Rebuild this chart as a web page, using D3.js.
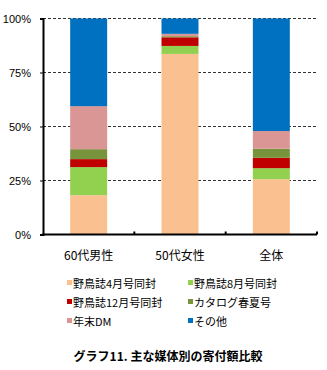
<!DOCTYPE html>
<html><head><meta charset="utf-8">
<script src="https://cdn.jsdelivr.net/npm/d3@7"></script>
<style>body{margin:0;background:#fff;} svg{display:block;font-family:"Noto Sans CJK JP","Noto Sans",sans-serif;}</style>
</head><body><svg id="c" width="327" height="370"></svg>
<script>
const categories = ["60代男性", "50代女性", "全体"];
const seriesNames = ["野鳥誌4月号同封", "野鳥誌8月号同封", "野鳥誌12月号同封", "カタログ春夏号", "年末DM", "その他"];
const seriesColors = ["#FAC090", "#92D050", "#C00000", "#77933C", "#D99694", "#0070C0"];
const s1 = [18.2, 83.6, 25.6];
const s2 = [13.0, 3.7, 5.1];
const s3 = [3.7, 4.0, 4.8];
const s4 = [4.6, 0.5, 4.2];
const s5 = [19.9, 1.1, 8.2];
const s6 = [40.6, 7.1, 52.1];
const yTicks = [0, 0.25, 0.5, 0.75, 1];
const title = "グラフ11. 主な媒体別の寄付額比較";

const svg = d3.select("#c");
const L = 43, R = 317, T = 18.5, B = 234.5;
const x = d3.scaleBand().domain(categories).range([L, R]).paddingInner(0.595).paddingOuter(0.2975);
const y = d3.scaleLinear().domain([0, 1]).range([B, T]);

const rows = categories.map((c, i) => {
  const o = {cat: c};
  [s1, s2, s3, s4, s5, s6].forEach((s, k) => o[seriesNames[k]] = s[i]);
  const tot = d3.sum([s1, s2, s3, s4, s5, s6], s => s[i]);
  seriesNames.forEach(n => o[n] = o[n] / tot);
  return o;
});
const stacked = d3.stack().keys(seriesNames)(rows);

// gridlines
svg.append("g").selectAll("line").data(yTicks.filter(d => d > 0)).join("line")
  .attr("x1", L).attr("x2", R).attr("y1", d => y(d)).attr("y2", d => y(d))
  .attr("stroke", "#333").attr("stroke-width", 1).attr("stroke-dasharray", "3,2");

// bars
svg.append("g").selectAll("g").data(stacked).join("g")
  .attr("fill", (d, i) => seriesColors[i])
  .selectAll("rect").data(d => d).join("rect")
  .attr("x", d => x(d.data.cat)).attr("width", x.bandwidth())
  .attr("y", d => y(d[1])).attr("height", d => y(d[0]) - y(d[1]));

// y axis
const ya = svg.append("g").attr("transform", `translate(${L},0)`)
  .call(d3.axisLeft(y).tickValues(yTicks).tickFormat(d3.format(".0%")).tickSize(3).tickPadding(9));
ya.select(".domain").attr("stroke", "#000").attr("stroke-width", 2);
ya.selectAll(".tick line").attr("stroke", "#000");
ya.selectAll("text").attr("font-size", 11).attr("fill", "#000").attr("font-family", "'Liberation Sans',sans-serif");

// x axis
const xa = svg.append("g").attr("transform", `translate(0,${B})`);
xa.append("line").attr("x1", L - 1).attr("x2", R).attr("y1", 0).attr("y2", 0).attr("stroke", "#000").attr("stroke-width", 2);
const step = x.step();
xa.selectAll(".tk").data(d3.range(1, categories.length + 1)).join("line")
  .attr("x1", i => L + i * (R - L) / categories.length).attr("x2", i => L + i * (R - L) / categories.length)
  .attr("y1", 0).attr("y2", -3).attr("stroke", "#000").attr("stroke-width", 2);
xa.selectAll("text").data(categories).join("text")
  .attr("x", d => x(d) + x.bandwidth() / 2).attr("y", 25)
  .attr("text-anchor", "middle").attr("font-size", 12).attr("fill", "#000").text(d => d);

// legend
const lg = svg.append("g");
const lx = [67, 188], ly = [283, 302, 321];
seriesNames.forEach((n, i) => {
  const gx = lx[i % 2], gy = ly[Math.floor(i / 2)];
  lg.append("rect").attr("x", gx).attr("y", gy - 3).attr("width", 5).attr("height", 5).attr("fill", seriesColors[i]);
  lg.append("text").attr("x", gx + 6).attr("y", gy).attr("dominant-baseline", "central")
    .attr("font-size", 11).attr("fill", "#000").text(n);
});

svg.append("text").attr("x", 168).attr("y", 355).attr("text-anchor", "middle").attr("dominant-baseline", "central")
  .attr("font-size", 12).attr("font-weight", "bold").attr("fill", "#000").text(title);
</script></body></html>
